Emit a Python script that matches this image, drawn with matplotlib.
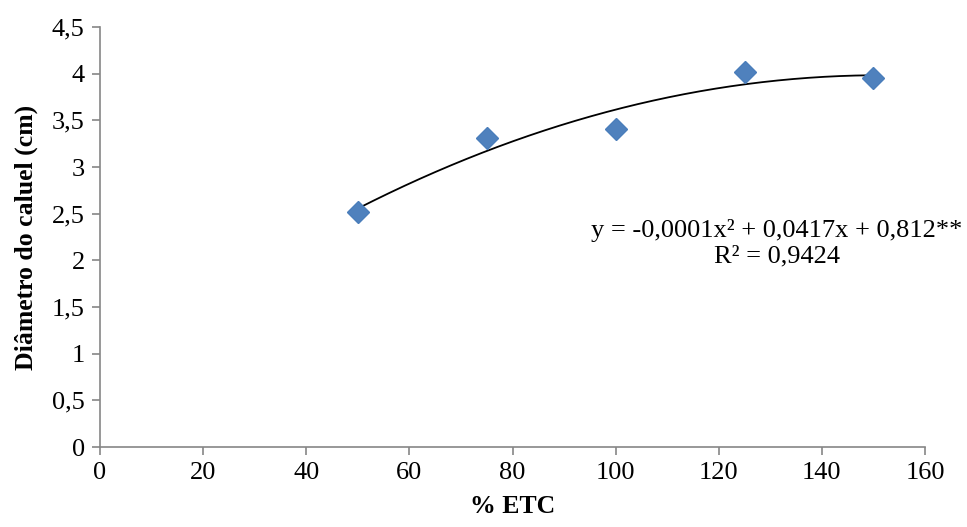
import matplotlib
matplotlib.use("Agg")
import matplotlib.pyplot as plt
import numpy as np

# dados
etc = [50, 75, 100, 125, 150]
diametro = [2.52, 3.31, 3.41, 4.02, 3.95]
x_ticks = [0, 20, 40, 60, 80, 100, 120, 140, 160]
y_ticks = [0, 0.5, 1, 1.5, 2, 2.5, 3, 3.5, 4, 4.5]
equacao = "y = -0,0001x² + 0,0417x + 0,812**"
r2_texto = "R² = 0,9424"

plt.rcParams['font.family'] = ['Liberation Serif', 'DejaVu Serif']

fig = plt.figure(figsize=(9.67, 5.27), dpi=100)
ax = fig.add_axes([100 / 967, 80 / 527, 825 / 967, 420 / 527])

# linha de tendência polinomial (2ª ordem)
coef = np.polyfit(etc, diametro, 2)
xs = np.linspace(min(etc), max(etc), 200)
ax.plot(xs, np.polyval(coef, xs), color='black', lw=1.3, zorder=2)

ax.plot(etc, diametro, linestyle='none', marker='D', ms=11,
        mfc='#4F81BD', mec='#4A7EBB', zorder=3)

ax.set_xlim(0, 160)
ax.set_ylim(0, 4.5)
ax.set_xticks(x_ticks)
ax.set_yticks(y_ticks)
ax.set_yticklabels([f"{v:g}".replace('.', ',') for v in y_ticks])

for s in ['top', 'right']:
    ax.spines[s].set_visible(False)
for s in ['left', 'bottom']:
    ax.spines[s].set_color('#868686')
    ax.spines[s].set_linewidth(1.2)
ax.tick_params(axis='both', direction='out', length=6, width=1.2,
               color='#868686', labelsize=19, pad=5)

ax.set_xlabel('% ETC', fontsize=18.5, fontweight='bold', labelpad=8)
ax.set_ylabel('Diâmetro do caluel (cm)', fontsize=18.5, fontweight='bold', labelpad=10)

ax.text(0.82, 0.486, equacao + "\n" + r2_texto, transform=ax.transAxes,
        ha='center', va='center', fontsize=19, linespacing=1.2)

fig.savefig('out.png', dpi=100)
